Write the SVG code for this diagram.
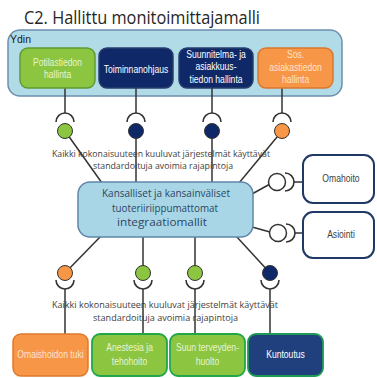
<svg xmlns="http://www.w3.org/2000/svg" width="377" height="378" viewBox="0 0 377 378">
  <defs>
    <style>
      .title { font-family: "Open Sans", "Liberation Sans", sans-serif; font-size: 18px; fill: #262626; }
      .note { font-family: "Open Sans", "Liberation Sans", sans-serif; font-size: 9.5px; fill: #404040; text-anchor: middle; }
      .lbl, .side { font-family: "Liberation Sans", Arial, sans-serif; font-size: 10px; text-anchor: middle;
                    transform-box: fill-box; transform-origin: center; transform: scaleX(0.86); }
      .side { fill: #404040; }
      .hub { font-family: "Open Sans", "Liberation Sans", sans-serif; font-size: 11.5px; fill: #2c4763; text-anchor: middle; }
      .wire { stroke: #333333; stroke-width: 1.5; fill: none; }
      .sock { stroke: #333333; stroke-width: 1.6; fill: none; }
      .green { fill: #8cc540; }
      .navy { fill: #0f2867; }
      .orange { fill: #f79646; }
    </style>
  </defs>

  <rect width="377" height="378" fill="#ffffff"/>

  <text class="title" x="24" y="24" textLength="236" lengthAdjust="spacingAndGlyphs">C2. Hallittu monitoimittajamalli</text>

  <!-- Core container -->
  <g id="ydin">
    <rect x="8" y="30" width="334" height="66" rx="12" fill="#b2dbe8" stroke="#6e8fae" stroke-width="1.5"/>
    <text x="10" y="43" font-family="Liberation Sans, Arial, sans-serif" font-size="10.5" fill="#1a1a1a">Ydin</text>
  </g>

  <!-- Connectors -->
  <g id="connectors">
    <!-- top row: box to socket -->
    <line class="wire" x1="65" y1="88" x2="65" y2="113"/>
    <line class="wire" x1="136" y1="88" x2="136" y2="113"/>
    <line class="wire" x1="212" y1="88" x2="212" y2="113"/>
    <line class="wire" x1="282" y1="88" x2="282" y2="113"/>
    <path class="sock" d="M56,122 A9,9 0 0 1 74,122"/>
    <path class="sock" d="M127,122 A9,9 0 0 1 145,122"/>
    <path class="sock" d="M203,122 A9,9 0 0 1 221,122"/>
    <path class="sock" d="M273,122 A9,9 0 0 1 291,122"/>
    <!-- top row: ball to hub -->
    <line class="wire" x1="65" y1="131" x2="102" y2="183"/>
    <line class="wire" x1="136" y1="131" x2="136" y2="183"/>
    <line class="wire" x1="212" y1="131" x2="212" y2="183"/>
    <line class="wire" x1="282" y1="131" x2="239" y2="183"/>
    <!-- side interfaces -->
    <line class="wire" x1="252" y1="194" x2="270" y2="184"/>
    <path class="sock" d="M285,173 A9,9 0 0 1 285,191"/>
    <line class="wire" x1="294" y1="182" x2="303" y2="182"/>
    <line class="wire" x1="252" y1="227" x2="270" y2="232"/>
    <path class="sock" d="M286,224 A9,9 0 0 1 286,242"/>
    <line class="wire" x1="295" y1="233" x2="303" y2="233"/>
    <!-- bottom row: hub to ball -->
    <line class="wire" x1="101" y1="236" x2="65" y2="273"/>
    <line class="wire" x1="143" y1="237" x2="143" y2="273"/>
    <line class="wire" x1="195" y1="237" x2="195" y2="273"/>
    <line class="wire" x1="236" y1="236" x2="270" y2="273"/>
    <!-- bottom row: socket to box -->
    <path class="sock" d="M56,280 A9,9 0 0 0 74,280"/>
    <path class="sock" d="M134,280 A9,9 0 0 0 152,280"/>
    <path class="sock" d="M186,280 A9,9 0 0 0 204,280"/>
    <path class="sock" d="M261,280 A9,9 0 0 0 279,280"/>
    <line class="wire" x1="65" y1="289" x2="65" y2="334"/>
    <line class="wire" x1="143" y1="289" x2="143" y2="334"/>
    <line class="wire" x1="195" y1="289" x2="195" y2="334"/>
    <line class="wire" x1="270" y1="289" x2="270" y2="334"/>
  </g>

  <!-- Interface balls -->
  <g id="balls" stroke="#333333" stroke-width="1">
    <circle class="green" cx="65" cy="131" r="7.5"/>
    <circle class="navy" cx="136" cy="131" r="7.5"/>
    <circle class="navy" cx="212" cy="131" r="7.5"/>
    <circle class="orange" cx="282" cy="131" r="7.5"/>
    <circle fill="#ffffff" stroke-width="1.5" cx="277" cy="182" r="8.5"/>
    <circle fill="#ffffff" stroke-width="1.5" cx="278" cy="233" r="8.5"/>
    <circle class="orange" cx="65" cy="273" r="7.5"/>
    <circle class="green" cx="143" cy="273" r="7.5"/>
    <circle class="green" cx="195" cy="273" r="7.5"/>
    <circle class="navy" cx="270" cy="273" r="7.5"/>
  </g>

  <!-- Top core systems -->
  <g id="potilastiedon-hallinta">
    <rect x="20" y="48" width="75" height="40" rx="8" fill="#8cc540" stroke="#5f9a35" stroke-width="1.5"/>
    <text class="lbl" fill="#e6f4d4" x="57.5" y="66">Potilastiedon</text>
    <text class="lbl" fill="#e6f4d4" x="57.5" y="78">hallinta</text>
  </g>
  <g id="toiminnanohjaus">
    <rect x="99" y="48" width="74" height="40" rx="8" fill="#0f2867" stroke="#2a3f6e" stroke-width="1.5"/>
    <text class="lbl" fill="#ffffff" x="136" y="73">Toiminnanohjaus</text>
  </g>
  <g id="suunnitelma-asiakkuustiedon-hallinta">
    <rect x="179" y="48" width="74" height="40" rx="8" fill="#0f2867" stroke="#2a3f6e" stroke-width="1.5"/>
    <text class="lbl" fill="#ffffff" x="216" y="58">Suunnitelma- ja</text>
    <text class="lbl" fill="#ffffff" x="216" y="70">asiakkuus-</text>
    <text class="lbl" fill="#ffffff" x="216" y="83">tiedon hallinta</text>
  </g>
  <g id="sos-asiakastiedon-hallinta">
    <rect x="258" y="48" width="75" height="40" rx="8" fill="#f79646" stroke="#d9782f" stroke-width="1.5"/>
    <text class="lbl" fill="#fde3cc" x="295.5" y="58">Sos.</text>
    <text class="lbl" fill="#fde3cc" x="295.5" y="71">asiakastiedon</text>
    <text class="lbl" fill="#fde3cc" x="295.5" y="83">hallinta</text>
  </g>

  <!-- Notes -->
  <g id="note-top">
    <text class="note" x="161" y="157" textLength="218" lengthAdjust="spacingAndGlyphs">Kaikki kokonaisuuteen kuuluvat järjestelmät käyttävät</text>
    <text class="note" x="163" y="169" textLength="140" lengthAdjust="spacingAndGlyphs">standardoituja avoimia rajapintoja</text>
  </g>
  <g id="note-bottom">
    <text class="note" x="165" y="308" textLength="226" lengthAdjust="spacingAndGlyphs">Kaikki kokonaisuuteen kuuluvat järjestelmät käyttävät</text>
    <text class="note" x="165.5" y="321" textLength="145" lengthAdjust="spacingAndGlyphs">standardoituja avoimia rajapintoja</text>
  </g>

  <!-- Integration hub -->
  <g id="integraatiomallit">
    <rect x="78" y="182" width="175" height="55" rx="12" fill="#a9d6e7" stroke="#5f86a8" stroke-width="1.5"/>
    <text class="hub" x="166" y="197" textLength="128" lengthAdjust="spacingAndGlyphs">Kansalliset ja kansainväliset</text>
    <text class="hub" x="165" y="212" textLength="106" lengthAdjust="spacingAndGlyphs">tuoteriiriippumattomat</text>
    <text class="hub" x="162" y="226" textLength="90" lengthAdjust="spacingAndGlyphs">integraatiomallit</text>
  </g>

  <!-- Side services -->
  <g id="omahoito">
    <rect x="303" y="155" width="71" height="48" rx="10" fill="#ffffff" stroke="#1f3864" stroke-width="2"/>
    <text class="side" x="341" y="182">Omahoito</text>
  </g>
  <g id="asiointi">
    <rect x="303" y="212" width="71" height="46" rx="10" fill="#ffffff" stroke="#1f3864" stroke-width="2"/>
    <text class="side" x="341" y="238">Asiointi</text>
  </g>

  <!-- Bottom systems -->
  <g id="omaishoidon-tuki">
    <rect x="13" y="334" width="75" height="42" rx="8" fill="#f79646" stroke="#e07a2c" stroke-width="1.5"/>
    <text class="lbl" fill="#fde3cc" x="50.5" y="358">Omaishoidon tuki</text>
  </g>
  <g id="anestesia-ja-tehohoito">
    <rect x="92" y="334" width="75" height="42" rx="8" fill="#8cc540" stroke="#22a64a" stroke-width="1.8"/>
    <text class="lbl" fill="#e6f4d4" x="129.5" y="351">Anestesia ja</text>
    <text class="lbl" fill="#e6f4d4" x="129.5" y="365">tehohoito</text>
  </g>
  <g id="suun-terveydenhuolto">
    <rect x="170" y="334" width="75" height="42" rx="8" fill="#8cc540" stroke="#22a64a" stroke-width="1.8"/>
    <text class="lbl" fill="#e6f4d4" x="207.5" y="351">Suun terveyden-</text>
    <text class="lbl" fill="#e6f4d4" x="207.5" y="365">huolto</text>
  </g>
  <g id="kuntoutus">
    <rect x="248" y="334" width="75" height="42" rx="8" fill="#1f3f7d" stroke="#1f9a55" stroke-width="1.8"/>
    <text class="lbl" fill="#ffffff" x="285.5" y="358">Kuntoutus</text>
  </g>
</svg>
